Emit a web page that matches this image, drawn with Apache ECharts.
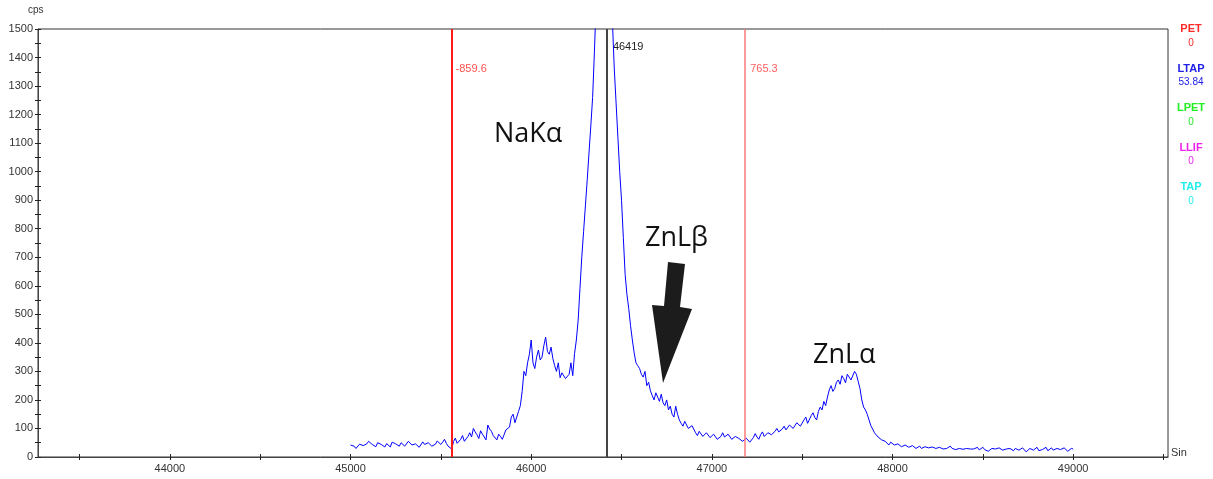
<!DOCTYPE html>
<html>
<head>
<meta charset="utf-8">
<script src="https://cdn.jsdelivr.net/npm/echarts@6/dist/echarts.min.js"></script>
<style>
  html, body { margin: 0; padding: 0; background: #fff; }
  #chart { width: 1213px; height: 479px; }
</style>
</head>
<body>
<div id="chart"></div>
<script>
  // spectrometer position (sin units), first channel and step
  var startPos = 45000;
  var stepPos = 10;

  // counts per second, one per channel (one row = 100 sin)
  var cps = [
    42, 36, 38, 30, 32, 45, 48, 40, 38, 46,
    55, 48, 44, 38, 36, 50, 52, 44, 41, 35,
    47, 40, 35, 52, 58, 46, 43, 38, 50, 44,
    38, 45, 55, 48, 42, 36, 46, 52, 34, 40,
    53, 44, 40, 50, 48, 38, 37, 45, 56, 50,
    44, 52, 62, 48, 38, 32, 28, 54, 66, 48,
    50, 62, 75, 55, 58, 72, 85, 70, 100, 88,
    78, 65, 92, 80, 70, 60, 112, 98, 90, 75,
    68, 60, 80, 72, 62, 78, 95, 88, 105, 140,
    150, 120, 125, 160, 180, 230, 300, 285, 330, 360,
    410, 330, 310, 350, 375, 340, 350, 390, 420, 370,
    360, 385, 345, 320, 300, 330, 278, 295, 300, 275,
    268, 290, 330, 285, 362, 410, 480, 590, 700, 790,
    880, 970, 1065, 1160, 1260, 1420, 1600, 1750, 1900, 2000,
    2100, 2080, 2000, 1850, 1700, 1520, 1360, 1240, 1120, 1000,
    900, 770, 640, 570, 520, 460, 410, 365, 330, 320,
    310, 290, 280, 300, 250, 262, 232, 215, 200, 225,
    210, 195, 220, 190, 180, 200, 165, 178, 150, 140,
    178, 150, 130, 118, 108, 125, 120, 100, 95, 110,
    105, 85, 75, 90, 88, 72, 70, 85, 82, 68,
    65, 80, 78, 62, 60, 72, 85, 70, 68, 80,
    74, 62, 58, 72, 76, 65, 62, 55, 50, 66,
    70, 52, 45, 68, 82, 70, 62, 78, 88, 72,
    70, 85, 92, 78, 75, 90, 100, 88, 82, 98,
    108, 95, 90, 112, 115, 100, 98, 120, 125, 108,
    110, 130, 140, 118, 120, 145, 155, 138, 130, 160,
    175, 165, 195, 180, 210, 235, 250, 230, 240, 262,
    270, 255, 285, 275, 260, 290, 295, 270, 275, 300,
    290, 265, 240, 200, 175, 165, 150, 130, 110, 98,
    85, 78, 70, 75, 60, 64, 55, 48, 42, 52,
    50, 42, 38, 46, 44, 36, 35, 42, 40, 34,
    32, 40, 38, 30, 34, 38, 30, 28, 36, 33,
    32, 36, 35, 30, 30, 34, 34, 30, 28, 32,
    30, 34, 38, 30, 32, 26, 22, 30, 30, 27,
    26, 30, 32, 28, 22, 28, 30, 34, 25, 30,
    34, 26, 28, 20, 22, 30, 35, 28, 26, 32,
    30, 24, 22, 28, 33, 30, 26, 22, 30, 32,
    24, 30, 32, 26, 18, 25, 30, 34, 24, 28,
    34, 22, 18, 26, 28, 34, 22, 26, 32, 24,
    20, 30, 35, 26, 24, 32, 30, 20, 22, 30,
    28
  ];

  // axis ticks and labels
  var xTicks = [43500, 44000, 44500, 45000, 45500, 46000, 46500, 47000, 47500, 48000, 48500, 49000, 49500];
  var xLabels = [44000, 45000, 46000, 47000, 48000, 49000];

  // peak position and background offsets
  var peakPos = 46419;
  var bgLow = -859.6;
  var bgHigh = 765.3;

  // element channels on the right
  var channels = ['PET', 'LTAP', 'LPET', 'LLIF', 'TAP'];
  var channelValues = ['0', '53.84', '0', '0', '0'];
  var channelColors = ['#ff2b2b', '#2020e8', '#22ee22', '#ee22ee', '#22eeee'];

  var points = cps.map(function (v, i) { return [startPos + i * stepPos, v]; });
  var plain = function (v) { return String(v); };

  var myChart = echarts.init(document.getElementById('chart'));

  var option = {
    animation: false,
    backgroundColor: '#fff',
    grid: {
      left: 38, right: 45, top: 29, bottom: 22,
      show: true,
      borderColor: '#333',
      borderWidth: 1,
      outerBoundsMode: 'none'
    },
    xAxis: [{
      type: 'value',
      min: 43270,
      max: 49525,
      position: 'bottom',
      axisLine: { lineStyle: { color: '#444', width: 1 } },
      axisTick: { customValues: xTicks, length: 3, lineStyle: { color: '#222' } },
      axisLabel: { customValues: xLabels, formatter: plain, fontSize: 11, color: '#333', margin: 6, fontFamily: 'Liberation Sans' },
      splitLine: { show: false }
    }, {
      type: 'value',
      min: 43270,
      max: 49525,
      position: 'bottom',
      axisLine: { show: false },
      axisTick: { customValues: xTicks, inside: true, length: 3, lineStyle: { color: '#222' } },
      axisLabel: { show: false },
      splitLine: { show: false }
    }],
    yAxis: [{
      type: 'value',
      min: 0,
      max: 1500,
      interval: 100,
      position: 'left',
      axisLine: { show: true, lineStyle: { color: '#444', width: 1 } },
      axisTick: { show: true, length: 3, lineStyle: { color: '#222' } },
      minorTick: { show: true, splitNumber: 2, length: 3, lineStyle: { color: '#222' } },
      axisLabel: { formatter: plain, fontSize: 11, color: '#333', margin: 5, fontFamily: 'Liberation Sans' },
      splitLine: { show: false }
    }, {
      type: 'value',
      min: 0,
      max: 1500,
      interval: 100,
      position: 'left',
      axisLine: { show: false },
      axisTick: { show: true, inside: true, length: 3, lineStyle: { color: '#222' } },
      minorTick: { show: true, splitNumber: 2, length: 3, lineStyle: { color: '#222' } },
      axisLabel: { show: false },
      splitLine: { show: false }
    }],
    series: [{
      type: 'line',
      xAxisIndex: 0,
      yAxisIndex: 0,
      data: points,
      showSymbol: false,
      clip: true,
      lineStyle: { color: '#0000ff', width: 1 },
      markLine: {
        silent: true,
        symbol: 'none',
        label: { show: false },
        data: [
          { xAxis: peakPos + bgLow, lineStyle: { color: '#ff1a1a', width: 2, type: 'solid', opacity: 1 } },
          { xAxis: peakPos, lineStyle: { color: '#444', width: 2, type: 'solid', opacity: 1 } },
          { xAxis: peakPos + bgHigh, lineStyle: { color: '#ff7a7a', width: 1.5, type: 'solid', opacity: 1 } }
        ]
      }
    }]
  };
  myChart.setOption(option);

  // texts placed from data positions
  function px(x, y) { return myChart.convertToPixel({ gridIndex: 0 }, [x, y]); }
  var pLow = px(peakPos + bgLow, 1360);
  var pPeak = px(peakPos, 1437);
  var pHigh = px(peakPos + bgHigh, 1360);

  var graphics = [
    { type: 'text', left: 28, top: 5, style: { text: 'cps', fontSize: 10, fill: '#333', fontFamily: 'Liberation Sans' } },
    { type: 'text', x: 1171, y: 453, style: { text: 'Sin', fontSize: 11, fill: '#333', fontFamily: 'Liberation Sans', verticalAlign: 'middle' } },
    { type: 'text', x: pLow[0] + 4, y: pLow[1], style: { text: bgLow.toFixed(1), fontSize: 11, fill: '#ff5050', fontFamily: 'Liberation Sans', verticalAlign: 'middle' } },
    { type: 'text', x: pPeak[0] + 6, y: pPeak[1], style: { text: String(peakPos), fontSize: 11, fill: '#222', fontFamily: 'Liberation Sans', verticalAlign: 'middle' } },
    { type: 'text', x: pHigh[0] + 5, y: pHigh[1], style: { text: bgHigh.toFixed(1), fontSize: 11, fill: '#ff6060', fontFamily: 'Liberation Sans', verticalAlign: 'middle' } },
    // peak names
    { type: 'text', x: 494, y: 134, style: { text: 'NaKα', fontSize: 27, fill: '#111', fontFamily: 'Open Sans', verticalAlign: 'middle' } },
    { type: 'text', x: 645, y: 238, style: { text: 'ZnLβ', fontSize: 27, fill: '#111', fontFamily: 'Open Sans', verticalAlign: 'middle' } },
    { type: 'text', x: 813, y: 355, style: { text: 'ZnLα', fontSize: 27, fill: '#111', fontFamily: 'Open Sans', verticalAlign: 'middle' } },
    // arrow
    { type: 'polygon', shape: { points: [[668, 262], [685, 264], [680, 307], [692, 309], [663, 383], [652, 305], [664, 306]] }, style: { fill: '#1c1c1c' } }
  ];

  channels.forEach(function (name, i) {
    var y = 29 + i * 39.5;
    graphics.push({ type: 'text', x: 1191, y: y, style: { text: name, fontSize: 11, fontWeight: 'bold', fill: channelColors[i], fontFamily: 'Liberation Sans', align: 'center', verticalAlign: 'middle' } });
    graphics.push({ type: 'text', x: 1191, y: y + 14, style: { text: channelValues[i], fontSize: 10, fill: channelColors[i], fontFamily: 'Liberation Sans', align: 'center', verticalAlign: 'middle' } });
  });

  myChart.setOption({ graphic: graphics });
</script>
</body>
</html>
